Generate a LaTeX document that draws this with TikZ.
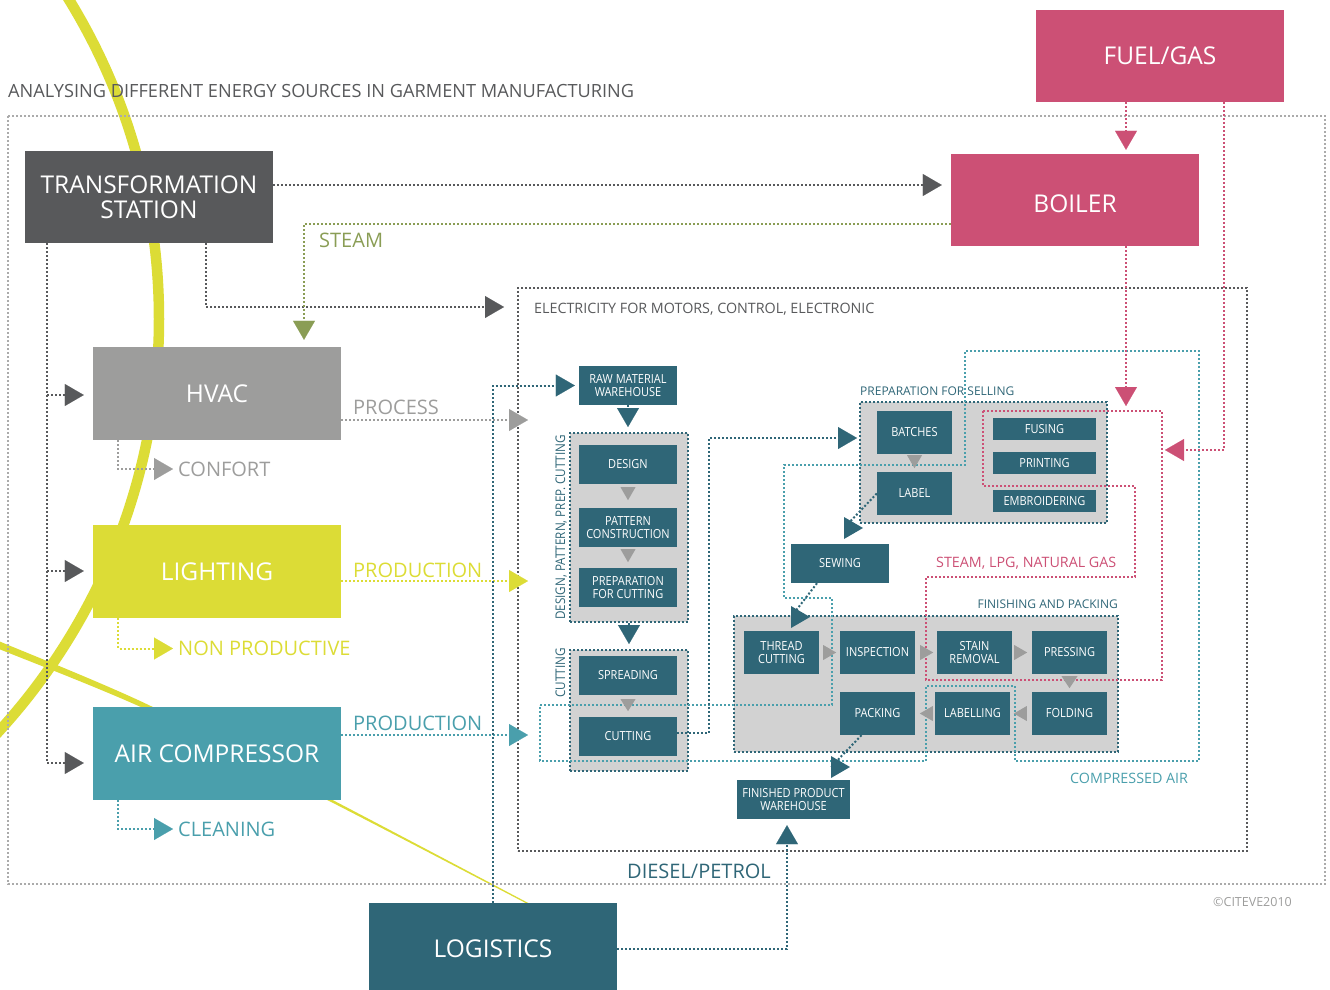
\documentclass[tikz,border=0pt]{standalone}
\usepackage{fontspec}
\setmainfont{Open Sans}
\newfontfamily\narrowsans[FakeStretch=0.88]{Open Sans}
\usetikzlibrary{arrows.meta,calc}
\definecolor{cInk}{HTML}{58595B}
\definecolor{cRose}{HTML}{CC5075}
\definecolor{cGray}{HTML}{9D9D9C}
\definecolor{cLime}{HTML}{DCDC36}
\definecolor{cAqua}{HTML}{4A9FAC}
\definecolor{cPetrol}{HTML}{2F6677}
\definecolor{cOlive}{HTML}{8A9D55}
\definecolor{cPanel}{HTML}{D2D2D2}
\definecolor{cFrame}{HTML}{ABABAB}
\newcommand\fsz[2]{\fontsize{#1}{#2}\selectfont}
\pgfdeclarelayer{deco}
\pgfdeclarelayer{panels}
\pgfdeclarelayer{lines}
\pgfsetlayers{deco,panels,lines,main}
\begin{document}
\begin{tikzpicture}[x=1pt,y=-1pt,
  dots/.style={line width=2pt, dash pattern=on 2pt off 2pt},
  tipL/.style={-{Triangle[width=22pt,length=19pt,line width=0.1pt]}},
  big/.style={rectangle, inner sep=0pt, minimum width=248pt, minimum height=92pt,
    text=white, align=center, font=\fsz{24.5}{24.5}},
  small/.style={rectangle, inner sep=0pt, fill=cPetrol, text=white, align=center,
    font=\narrowsans\fsz{12.5}{13.5}},
  panel/.style={rectangle, inner sep=0pt, fill=cPanel, draw=cPetrol, dots},
  lbl/.style={inner sep=0pt, font=\fsz{20}{20}},
  mid/.style={inner sep=0pt, font=\fsz{14.3}{14.3}},
  grplbl/.style={inner sep=0pt, text=cPetrol, font=\fsz{12}{12}},
  pics/tri/.style n args={4}{code={\fill[#4,rotate=#1] (0,-#2/2) -- (0,#2/2) -- (#3,0) -- cycle;}},
]
\useasboundingbox (0,0) rectangle (1330,990);

% ---------- decorative curves ----------
\begin{pgfonlayer}{deco}
  \begin{scope}
    \clip (0,0) rectangle (1330,990);
    \draw[cLime, line width=10.5pt] (-452,319) circle[radius=611pt];
    \fill[cLime] plot[smooth] coordinates {(-10,637.4) (0,641.6) (147,704.2) (330,798.6) (527,902.3) (545,912)}
      -- plot[smooth] coordinates {(545,913) (527,903.7) (330,801.4) (147,709.8) (0,649.4) (-10,645.6)} -- cycle;
  \end{scope}
  \draw[dots, cFrame] (8,116) rectangle (1325,884);
\end{pgfonlayer}

% ---------- energy sources and users ----------
\node[big, fill=cInk] (tr) at (149,197) {TRANSFORMATION\\STATION};
\node[big, fill=cRose] (fuel) at (1160,56) {FUEL/GAS};
\node[big, fill=cRose, text height=25pt] (boiler) at (1075,200) {BOILER};
\node[big, fill=cGray, minimum height=93pt] (hvac) at (217,393.5) {HVAC};
\node[big, fill=cLime, minimum height=93pt] (light) at (217,571.5) {LIGHTING};
\node[big, fill=cAqua, minimum height=93pt] (air) at (217,753.5) {AIR COMPRESSOR};
\node[big, fill=cPetrol] (logi) at (493,949) {LOGISTICS};

\node[anchor=base west, inner sep=0pt, text=cInk, font=\fsz{18.2}{18.2}] (title) at (8,97)
  {ANALYSING DIFFERENT ENERGY SOURCES IN GARMENT MANUFACTURING};

% ---------- process areas ----------
\begin{pgfonlayer}{deco}
  \node[draw=cInk, dots, inner sep=0pt, minimum width=729pt, minimum height=563pt] (elec) at (882.5,569.5) {};
\end{pgfonlayer}
\begin{pgfonlayer}{panels}
  \node[panel, minimum width=118pt, minimum height=189pt] (g1) at (629,527.5) {};
  \node[panel, minimum width=118pt, minimum height=121pt] (g2) at (629,710.5) {};
  \node[panel, minimum width=247pt, minimum height=121pt] (g3) at (983.5,462.5) {};
  \node[panel, minimum width=384pt, minimum height=136pt] (g4) at (926,684) {};
\end{pgfonlayer}

\node[small, minimum width=98pt, minimum height=39pt] (raw) at (628,385.5) {RAW MATERIAL\\WAREHOUSE};
\node[small, minimum width=98pt, minimum height=39pt] (design) at (628,464.5) {DESIGN};
\node[small, minimum width=98pt, minimum height=39pt] (pattern) at (628,527.5) {PATTERN\\CONSTRUCTION};
\node[small, minimum width=98pt, minimum height=39pt] (prepc) at (628,587.5) {PREPARATION\\FOR CUTTING};
\node[small, minimum width=98pt, minimum height=39pt] (spread) at (628,675.5) {SPREADING};
\node[small, minimum width=98pt, minimum height=39pt] (cut) at (628,736.5) {CUTTING};

\node[small, minimum width=75pt, minimum height=43pt] (batches) at (914.5,432.5) {BATCHES};
\node[small, minimum width=75pt, minimum height=43pt] (label) at (914.5,493.5) {LABEL};
\node[small, minimum width=103pt, minimum height=22pt] (fusing) at (1044.5,429) {FUSING};
\node[small, minimum width=103pt, minimum height=22pt] (printing) at (1044.5,463) {PRINTING};
\node[small, minimum width=103pt, minimum height=22pt] (embro) at (1044.5,501) {EMBROIDERING};

\node[small, minimum width=98pt, minimum height=39pt] (sewing) at (840,563.5) {SEWING};

\node[small, minimum width=75pt, minimum height=43pt] (thread) at (781.5,652.5) {THREAD\\CUTTING};
\node[small, minimum width=75pt, minimum height=43pt] (insp) at (877.5,652.5) {INSPECTION};
\node[small, minimum width=75pt, minimum height=43pt] (stain) at (974.5,652.5) {STAIN\\REMOVAL};
\node[small, minimum width=75pt, minimum height=43pt] (press) at (1069.5,652.5) {PRESSING};
\node[small, minimum width=75pt, minimum height=43pt] (fold) at (1069.5,713.5) {FOLDING};
\node[small, minimum width=75pt, minimum height=43pt] (labl) at (972.5,713.5) {LABELLING};
\node[small, minimum width=75pt, minimum height=43pt] (pack) at (877.5,713.5) {PACKING};
\node[small, minimum width=113pt, minimum height=39pt] (fin) at (793.5,799.5) {FINISHED PRODUCT\\WAREHOUSE};

% ---------- texts ----------
\node[mid, text=cInk, anchor=base west] (elab) at (534,313) {ELECTRICITY FOR MOTORS, CONTROL, ELECTRONIC};
\node[grplbl, anchor=base west] (psl) at (860,395) {PREPARATION FOR SELLING};
\node[grplbl, anchor=base east] (fpl) at (1118,608) {FINISHING AND PACKING};
\node[grplbl, rotate=90, anchor=base west, font=\narrowsans\fsz{13.3}{13.3}] (g1l) at (565,620) {DESIGN, PATTERN, PREP. CUTTING};
\node[grplbl, rotate=90, anchor=base west, font=\narrowsans\fsz{13.3}{13.3}] (g2l) at (565,698) {CUTTING};
\node[mid, text=cRose, anchor=base west] (slng) at (936,567) {STEAM, LPG, NATURAL GAS};
\node[mid, text=cAqua, anchor=base west] (cairl) at (1070,783) {COMPRESSED AIR};
\node[inner sep=0pt, text=cGray, anchor=base west, font=\fsz{12.5}{12.5}] (copy) at (1213,906) {©CITEVE2010};

\node[lbl, text=cOlive, anchor=base west] (steam) at (319,247) {STEAM};
\node[lbl, text=cGray, anchor=west] (confort) at (178,469) {CONFORT};
\node[lbl, text=cGray, anchor=base west] (process) at (353,414) {PROCESS};
\node[lbl, text=cLime, anchor=west] (nonprod) at (178,648.5) {NON PRODUCTIVE};
\node[lbl, text=cLime, anchor=base west] (prodl) at (353,577) {PRODUCTION};
\node[lbl, text=cAqua, anchor=west] (clean) at (178,829) {CLEANING};
\node[lbl, text=cAqua, anchor=base west] (proda) at (353,730) {PRODUCTION};
\node[lbl, text=cPetrol, anchor=base west] (diesel) at (627,878) {DIESEL/PETROL};

% ---------- connectors ----------
\begin{pgfonlayer}{lines}
  % thermal energy loop (steam, LPG, natural gas)
  \draw[dots, cRose] (983,411) -- (1162,411) -- (1162,680) -- (926,680) -- (926,577)
    -- (1135,577) -- (1135,486) -- (983,486) -- cycle;
  % compressed air loop
  \draw[dots, cAqua] (540,705) -- (832,705) -- (832,598) -- (784,598) -- (784,465) -- (965,465)
    -- (965,351) -- (1199,351) -- (1199,761) -- (1015,761) -- (1015,686) -- (926,686)
    -- (926,761) -- (540,761) -- cycle;

  % electricity from the transformation station
  \draw[dots, cInk, tipL, shorten >=9pt] (tr.east |- 0,185) -- (boiler.west |- 0,185);
  \draw[dots, cInk, tipL, shorten >=13pt] (tr.south -| 206,0) |- (elec.west |- 0,307);
  \draw[dots, cInk, tipL, shorten >=9pt] (tr.south -| 47,0) |- (hvac.west |- 0,395);
  \draw[dots, cInk, tipL, shorten >=9pt] (tr.south -| 47,0) |- (light.west |- 0,571);
  \draw[dots, cInk, tipL, shorten >=9pt] (tr.south -| 47,0) |- (air.west |- 0,763);

  % steam and fuel
  \draw[dots, cOlive, tipL, shorten >=7pt] (boiler.west |- 0,224) -| (hvac.north -| 304,0);
  \draw[dots, cRose, tipL, shorten >=4pt] (fuel.south -| 1126,0) -- (boiler.north -| 1126,0);
  \coordinate (redtop) at (1126,411);
  \coordinate (redside) at (1162,450);
  \draw[dots, cRose, tipL, shorten >=5pt] (boiler.south -| 1126,0) -- (redtop);
  \draw[dots, cRose, tipL, shorten >=3pt] (fuel.south -| 1224,0) |- (redside);

  % uses of HVAC, lighting and compressed air
  \draw[dots, cGray, tipL, shorten >=5pt] (hvac.south -| 118,0) |- (confort.west);
  \draw[dots, cGray, tipL, shorten >=41pt] (hvac.east |- 0,420) -- (g1.west |- 0,420);
  \draw[dots, cLime, tipL, shorten >=5pt] (light.south -| 118,0) |- (nonprod.west);
  \draw[dots, cLime, tipL, shorten >=41pt] (light.east |- 0,581) -- (g1.west |- 0,581);
  \draw[dots, cAqua, tipL, shorten >=5pt] (air.south -| 118,0) |- (clean.west);
  \draw[dots, cAqua, tipL, shorten >=41pt] (air.east |- 0,735) -- (g2.west |- 0,735);

  % logistics
  \draw[dots, cPetrol, tipL, shorten >=4pt] (logi.north) |- (raw.west);
  \draw[dots, cPetrol, tipL, shorten >=6pt] (logi.east) -| ([xshift=-6.5pt]fin.south);

  % production flow
  \draw[dots, cPetrol, tipL, shorten >=5pt] (raw.south) -- (raw.south |- g1.north);
  \draw[dots, cPetrol, tipL, shorten >=5pt] (g1.south) -- (g2.north);
  \draw[dots, cPetrol, tipL, shorten >=2pt] (cut.east |- 0,733) -- (709,733) |- (g3.west |- 0,438);
  \coordinate (d1) at (844,528);
  \coordinate (d2) at (791,617);
  \coordinate (d3) at (831,767);
  \draw[dots, cPetrol] (label.west) -- (d1);
  \draw[dots, cPetrol] ([xshift=-23pt]sewing.south) -- (d2);
  \draw[dots, cPetrol] ([xshift=-16pt]pack.south) -- (d3);
\end{pgfonlayer}

% ---------- arrow heads on the flow ----------
\pic at (d1) {tri={0}{22}{19}{cPetrol}};
\pic at (d2) {tri={0}{22}{19}{cPetrol}};
\pic at (d3) {tri={0}{22}{19}{cPetrol}};

\pic at ([yshift=-3pt]design.south) {tri={-90}{15}{13}{cGray}};
\pic at ([yshift=-2pt]pattern.south) {tri={-90}{15}{13}{cGray}};
\pic at ([yshift=-4pt]spread.south) {tri={-90}{15}{12}{cGray}};
\pic at ([yshift=-1pt]batches.south) {tri={-90}{15}{13}{cGray}};
\pic at ([xshift=4pt]thread.east) {tri={0}{15}{13}{cGray}};
\pic at ([xshift=5pt]insp.east) {tri={0}{15}{13}{cGray}};
\pic at ([xshift=2pt]stain.east) {tri={0}{15}{13}{cGray}};
\pic at ([yshift=-2pt]press.south) {tri={-90}{16}{12}{cGray}};
\pic at ([xshift=-5pt]fold.west) {tri={180}{15}{13}{cGray}};
\pic at ([xshift=-2pt]labl.west) {tri={180}{15}{13}{cGray}};
\end{tikzpicture}
\end{document}
